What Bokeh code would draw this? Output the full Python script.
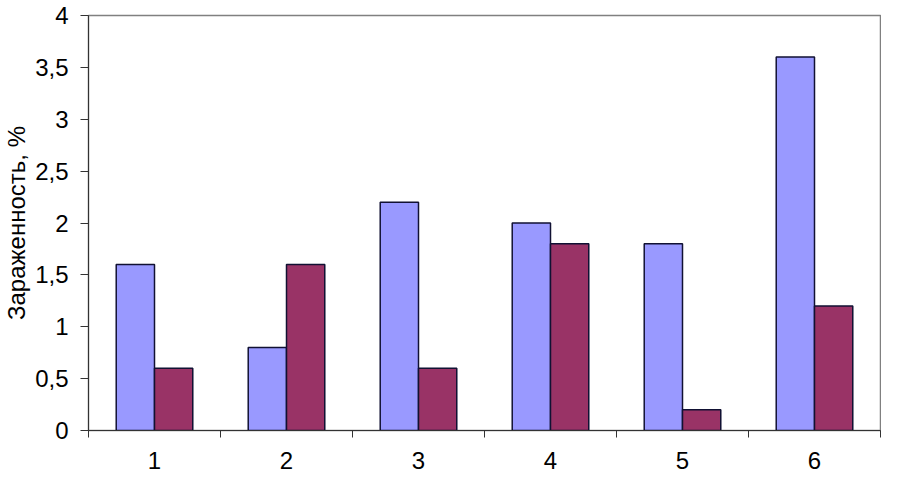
from bokeh.plotting import figure
from bokeh.models import Range1d, FixedTicker, ColumnDataSource
from bokeh.embed import file_html
from bokeh.resources import INLINE

categories = [1, 2, 3, 4, 5, 6]
series_blue = [1.6, 0.8, 2.2, 2.0, 1.8, 3.6]
series_red = [0.6, 1.6, 0.6, 1.8, 0.2, 1.2]
y_ticks = [0, 0.5, 1, 1.5, 2, 2.5, 3, 3.5, 4]
y_tick_labels = ["0", "0,5", "1", "1,5", "2", "2,5", "3", "3,5", "4"]
y_label = "Зараженность, %"

FONT = "Liberation Sans"
BAR_W = 0.29

src = ColumnDataSource(dict(
    x1=[c - BAR_W / 2 for c in categories],
    x2=[c + BAR_W / 2 for c in categories],
    a=series_blue,
    b=series_red,
))

p = figure(width=881, height=480, output_backend="svg", toolbar_location=None,
           x_range=Range1d(0.5, 6.5), y_range=Range1d(0, 4),
           min_border_left=82, min_border_right=1, min_border_top=15, min_border_bottom=50)

p.vbar(x="x1", top="a", width=BAR_W, source=src, fill_color="#9999FF",
       line_color="#111133", line_width=1.5)
p.vbar(x="x2", top="b", width=BAR_W, source=src, fill_color="#993366",
       line_color="#111133", line_width=1.5)

p.xgrid.visible = False
p.ygrid.visible = False
p.outline_line_color = "#808080"
p.outline_line_width = 1.5

xa = p.xaxis[0]
xa.ticker = FixedTicker(ticks=categories, minor_ticks=[c - 0.5 for c in categories] + [categories[-1] + 0.5])
xa.major_tick_line_color = None
xa.major_tick_out = 0
xa.major_tick_in = 0
xa.minor_tick_in = 0
xa.minor_tick_out = 7
xa.minor_tick_line_color = "#333333"
xa.axis_line_color = "#333333"
xa.major_label_standoff = 14
xa.major_label_text_font = FONT
xa.major_label_text_font_size = "24px"
xa.major_label_text_color = "#000000"

ya = p.yaxis[0]
ya.ticker = FixedTicker(ticks=y_ticks)
ya.major_label_overrides = {t: l for t, l in zip(y_ticks, y_tick_labels)}
ya.major_tick_out = 8
ya.major_tick_in = 0
ya.major_tick_line_color = "#333333"
ya.minor_tick_line_color = None
ya.axis_line_color = "#333333"
ya.major_label_standoff = 12
ya.major_label_text_font = FONT
ya.major_label_text_font_size = "24px"
ya.major_label_text_color = "#000000"
ya.axis_label = y_label
ya.axis_label_text_font = FONT
ya.axis_label_text_font_size = "24px"
ya.axis_label_text_font_style = "normal"
ya.axis_label_text_color = "#000000"
ya.axis_label_standoff = 2

open("out.html", "w").write(file_html(p, INLINE))
